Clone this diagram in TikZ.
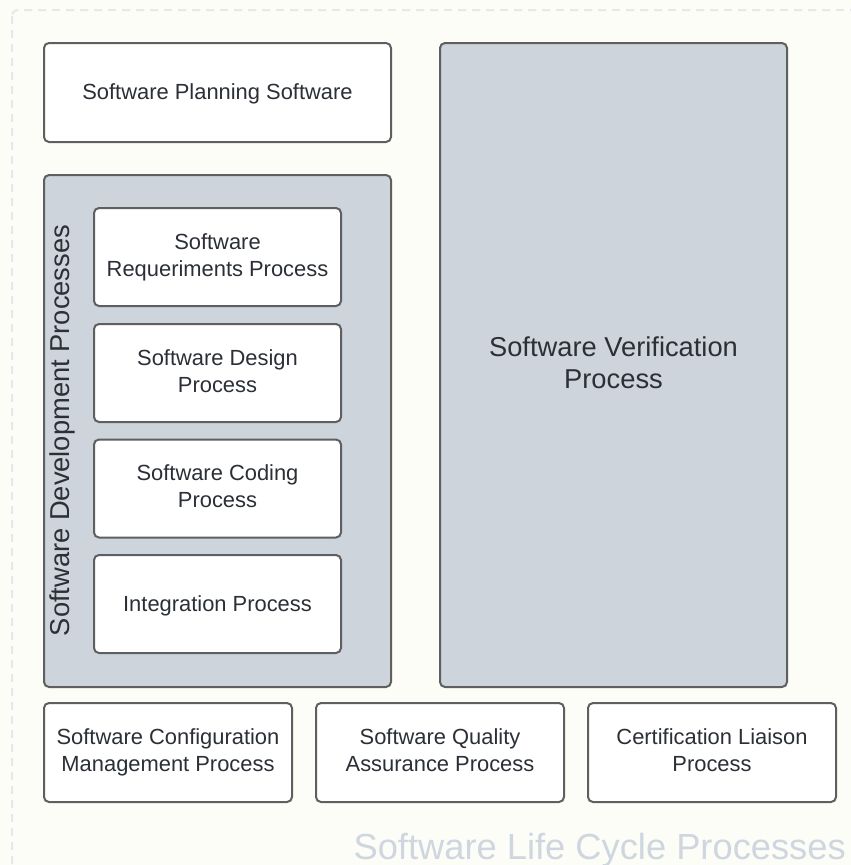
\documentclass[tikz,border=0pt]{standalone}
\usepackage{fontspec}
\setmainfont{Liberation Sans}
\definecolor{bgc}{HTML}{FCFDF7}
\definecolor{dashc}{HTML}{E6E8EE}
\definecolor{edgec}{HTML}{5F5F5F}
\definecolor{grayfill}{HTML}{CDD4DC}
\definecolor{txtc}{HTML}{2B2F36}
\definecolor{titlec}{HTML}{CFD6E0}
\tikzset{
  procbox/.style={draw=edgec, line width=2pt, rounded corners=5pt, fill=white,
    inner sep=0pt, align=center, text=txtc,
    font=\fontsize{21.9}{27}\selectfont,
    execute at begin node={\rule{0pt}{18.9pt}},
    execute at end node={\rule[-4.1pt]{0pt}{4.1pt}}},
  groupbox/.style={procbox, fill=grayfill},
}
\begin{document}
\begin{tikzpicture}[x=1pt,y=-1pt]
\useasboundingbox (0,0) rectangle (851,865);
\fill[bgc] (0,0) rectangle (851,865);
\begin{scope}
\clip (0,0) rectangle (851,865);
\draw[dashc, line width=2pt, dash pattern=on 8pt off 6pt, rounded corners=6pt] (12,10) rectangle (880,895);
\end{scope}
% top left
\node[procbox, minimum width=347pt, minimum height=99pt] (plan) at (217.5,92.5) {Software Planning Software};
% development group
\node[groupbox, minimum width=347pt, minimum height=512pt] (dev) at (217.5,431) {};
\node[rotate=90, text=txtc, font=\fontsize{27.3}{32}\selectfont, inner sep=0pt] (devlabel) at (62.5,430.5) {Software Development Processes};
\node[procbox, minimum width=247pt, minimum height=98pt] (req) at (217.5,257) {Software\\Requeriments Process};
\node[procbox, minimum width=247pt, minimum height=98pt] (design) at (217.5,373) {Software Design\\Process};
\node[procbox, minimum width=247pt, minimum height=98pt] (coding) at (217.5,488.5) {Software Coding\\Process};
\node[procbox, minimum width=247pt, minimum height=98pt] (integ) at (217.5,604) {Integration Process};
% verification
\node[groupbox, minimum width=347pt, minimum height=644pt, font=\fontsize{27.3}{32}\selectfont,
  execute at begin node={\rule{0pt}{26.4pt}},
  execute at end node={\rule[-0.6pt]{0pt}{0.6pt}}] (verif) at (613.5,365) {Software Verification\\Process};
% bottom row
\node[procbox, minimum width=248pt, minimum height=99pt] (scm) at (168,752.5) {Software Configuration\\Management Process};
\node[procbox, minimum width=248pt, minimum height=99pt] (sqa) at (440,752.5) {Software Quality\\Assurance Process};
\node[procbox, minimum width=248pt, minimum height=99pt] (cert) at (712,752.5) {Certification Liaison\\Process};
% title
\node[anchor=base east, text=titlec, font=\fontsize{36.3}{42}\selectfont, inner sep=0pt] (title) at (846,859) {Software Life Cycle Processes};
\end{tikzpicture}
\end{document}
